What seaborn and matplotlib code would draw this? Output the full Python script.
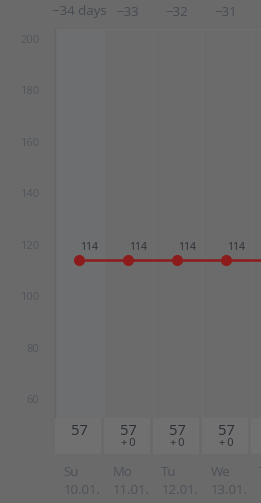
import matplotlib
matplotlib.use("Agg")
import matplotlib.pyplot as plt
import matplotlib.transforms as mtransforms
from matplotlib.patches import Rectangle
import seaborn as sns
import pandas as pd

# chart data
day_offsets = [-34, -33, -32, -31, -30]
top_labels = ["\u221234 days", "\u221233", "\u221232", "\u221231"]
values = [114, 114, 114, 114, 114]
weekdays = ["Su", "Mo", "Tu", "We", "Th"]
dates = ["10.01.", "11.01.", "12.01.", "13.01.", "14.01."]
counts = [57, 57, 57, 57, 57]
deltas = [None, "+\u20090", "+\u20090", "+\u20090", "+\u20090"]
y_ticks = [60, 80, 100, 120, 140, 160, 180, 200]

df = pd.DataFrame({"pos": range(len(day_offsets)), "value": values})

sns.set_style("white")
plt.rcParams["font.family"] = ["Open Sans", "DejaVu Sans"]

W, H = 261, 503
bg = "#6a6a6a"
fig = plt.figure(figsize=(W / 100, H / 100), dpi=100, facecolor=bg)

# main plot area
ax = fig.add_axes([54.5 / W, (H - 418) / H, (W - 54.5) / W, (418 - 29) / H])
ax.set_facecolor("#6b6b6b")
ax.set_xlim(-0.5, (W - 54.5) / 49 - 0.5)
ax.set_ylim(52.6, 203.9)

for i in range(len(day_offsets)):
    col = "#6d6e70" if i == 0 else "#6b6b6b"
    ax.axvspan(i - 0.5, i + 0.5, color=col, lw=0, zorder=0)
    ax.axvline(i + 0.5, color="#6f6f6f", lw=1, zorder=1)

sns.lineplot(data=df, x="pos", y="value", ax=ax, color="#8c1c1c", lw=1.8,
             marker="o", markersize=8, markeredgewidth=0, zorder=3)
for x, v in zip(df["pos"], df["value"]):
    ax.annotate(str(v), (x, v), xytext=(1, 5), textcoords="offset points",
                fontsize=7.5, color="#2a2e34", ha="left", va="bottom")

ax.set_xticks([])
ax.set_yticks(y_ticks)
ax.set_yticklabels([str(t) for t in y_ticks], fontsize=8, color="#50555b")
ax.tick_params(axis="y", length=0, pad=11)
ax.set_xlabel("")
ax.set_ylabel("")
for side in ["top", "right", "bottom"]:
    ax.spines[side].set_visible(False)
ax.spines["left"].set_color("#636363")
ax.spines["left"].set_linewidth(1)
ax.axhline(203.9, color="#6f6f6f", lw=1, clip_on=False)

trans_top = mtransforms.blended_transform_factory(ax.transData, fig.transFigure)
for i, lab in enumerate(top_labels):
    ax.text(i, 1 - 12 / H, lab, transform=trans_top, ha="center", va="center",
            fontsize=9.5, color="#464b52", clip_on=False)

# count boxes below the plot
bx = fig.add_axes([54.5 / W, (H - 454) / H, (W - 54.5) / W, 36 / H])
bx.set_xlim(ax.get_xlim())
bx.set_ylim(0, 1)
bx.axis("off")
for i, (c, d) in enumerate(zip(counts, deltas)):
    bx.add_patch(Rectangle((i - 0.5, 0), 0.95, 1, color="#707070", lw=0))
    bx.text(i, 0.63, str(c), ha="center", va="center", fontsize=10.5, color="#2a2e34")
    if d is not None:
        bx.text(i, 0.28, d, ha="center", va="center", fontsize=8, color="#2a2e34")

trans_bot = mtransforms.blended_transform_factory(ax.transData, fig.transFigure)
for i, (wd, dt) in enumerate(zip(weekdays, dates)):
    ax.text(i - 0.32, 1 - 473 / H, wd, transform=trans_bot, ha="left", va="center",
            fontsize=9.5, color="#4c5157", clip_on=False)
    ax.text(i - 0.32, 1 - 490 / H, dt, transform=trans_bot, ha="left", va="center",
            fontsize=9.5, color="#4c5157", clip_on=False)

fig.savefig("out.png", dpi=100, facecolor=bg)
